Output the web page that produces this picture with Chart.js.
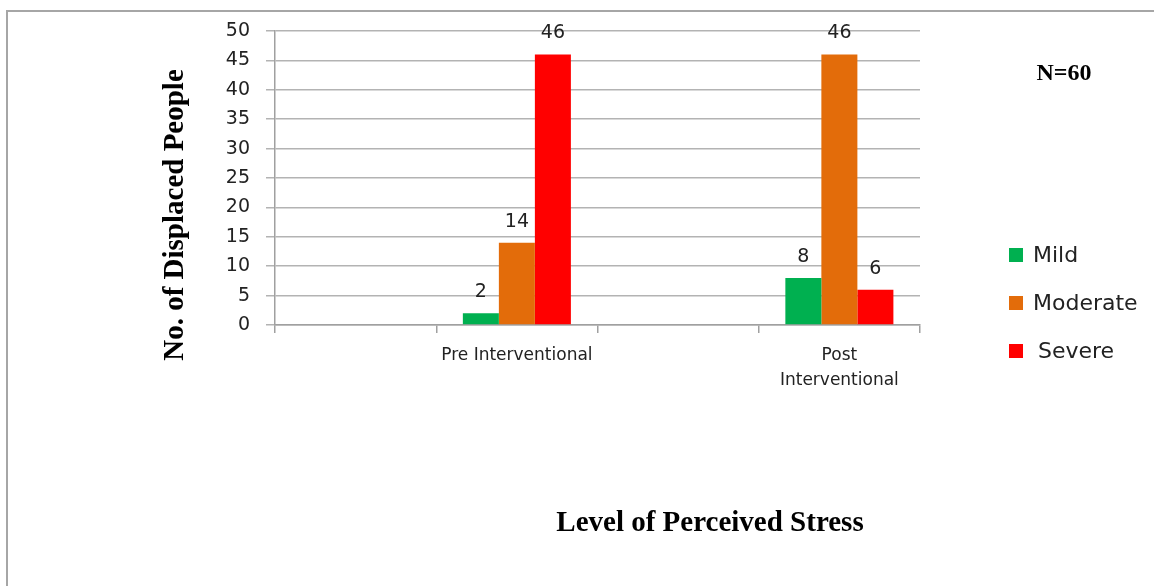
<!DOCTYPE html>
<html>
<head>
<meta charset="utf-8">
<script src="https://cdn.jsdelivr.net/npm/chart.js@4.4.1/dist/chart.umd.min.js"></script>
<style>
  html, body { margin: 0; padding: 0; background: #ffffff; }
  #wrap { position: relative; width: 1154px; height: 586px; }
  canvas { display: block; }
</style>
</head>
<body>
<div id="wrap"><canvas id="c" width="1154" height="586"></canvas></div>
<script>
// ---- data ----
const categories = ["", "Pre Interventional", "", ["Post", "Interventional"]];
const mildValues = [null, 2, null, 8];
const moderateValues = [null, 14, null, 46];
const severeValues = [null, 46, null, 6];
const seriesNames = ["Mild", "Moderate", "Severe"];
const seriesColors = ["#00b050", "#e36c0a", "#ff0000"];
const yMin = 0, yMax = 50, yStep = 5;
const yTitle = "No. of Displaced People";
const xTitle = "Level of Perceived Stress";
const noteText = "N=60";

const sans = "'DejaVu Sans', 'Open Sans', sans-serif";
const serif = "'Liberation Serif', 'DejaVu Serif', serif";

const extras = {
  id: 'extras',
  beforeDraw(chart) {
    const ctx = chart.ctx;
    ctx.save();
    ctx.fillStyle = '#ffffff';
    ctx.fillRect(0, 0, chart.width, chart.height);
    ctx.strokeStyle = '#a6a6a6';
    ctx.lineWidth = 2;
    ctx.beginPath();
    ctx.moveTo(7, chart.height);
    ctx.lineTo(7, 11);
    ctx.lineTo(chart.width, 11);
    ctx.stroke();
    ctx.restore();
  },
  afterDatasetsDraw(chart) {
    const ctx = chart.ctx;
    ctx.save();
    ctx.font = "19px " + sans;
    ctx.fillStyle = '#222222';
    ctx.textAlign = 'center';
    ctx.textBaseline = 'middle';
    chart.data.datasets.forEach((ds, i) => {
      const meta = chart.getDatasetMeta(i);
      meta.data.forEach((bar, j) => {
        const v = ds.data[j];
        if (v === null || v === undefined) return;
        ctx.fillText(String(v), bar.x, bar.y - 21);
      });
    });
    ctx.restore();
  },
  afterDraw(chart) {
    const ctx = chart.ctx;
    ctx.save();
    // y title
    ctx.fillStyle = '#000000';
    ctx.font = "bold 29px " + serif;
    ctx.textAlign = 'center';
    ctx.textBaseline = 'middle';
    ctx.translate(176, 215);
    ctx.rotate(-Math.PI / 2);
    ctx.fillText(yTitle, 0, 0);
    ctx.setTransform(1, 0, 0, 1, 0, 0);
    // x title
    ctx.font = "bold 29px " + serif;
    ctx.fillText(xTitle, 710, 524);
    // N note
    ctx.font = "bold 24px " + serif;
    ctx.fillText(noteText, 1064, 74);
    // legend
    ctx.textAlign = 'left';
    ctx.font = "22px " + sans;
    chart.data.datasets.forEach((ds, i) => {
      const cy = 255 + i * 48;
      ctx.fillStyle = ds.backgroundColor;
      ctx.fillRect(1009, cy - 7, 14, 14);
      ctx.fillStyle = '#222222';
      ctx.fillText(ds.label, i === 2 ? 1038 : 1033, cy + 1);
    });
    ctx.restore();
  }
};

new Chart(document.getElementById('c'), {
  type: 'bar',
  data: {
    labels: categories,
    datasets: [
      { label: seriesNames[0], data: mildValues, backgroundColor: seriesColors[0] },
      { label: seriesNames[1], data: moderateValues, backgroundColor: seriesColors[1] },
      { label: seriesNames[2], data: severeValues, backgroundColor: seriesColors[2] }
    ]
  },
  options: {
    responsive: false,
    animation: false,
    events: [],
    categoryPercentage: 0.67,
    barPercentage: 1.0,
    layout: { padding: { left: 160, right: 234, top: 31, bottom: 0 } },
    plugins: {
      legend: { display: false },
      tooltip: { enabled: false },
      title: { display: false }
    },
    scales: {
      x: {
        afterFit(scale) { scale.height = 261; },
        grid: {
          display: true,
          drawOnChartArea: false,
          drawTicks: true,
          tickLength: 8,
          color: '#a0a0a0',
          lineWidth: 1.5,
          offset: true
        },
        border: { display: true, color: '#a0a0a0', width: 1.5 },
        ticks: {
          autoSkip: false,
          maxRotation: 0,
          minRotation: 0,
          padding: 10,
          color: '#222222',
          font: { family: sans, size: 17, lineHeight: 1.47 }
        }
      },
      y: {
        min: yMin,
        max: yMax,
        afterFit(scale) { scale.width = 115; },
        grid: {
          color: '#b3b3b3',
          lineWidth: 1.5,
          tickLength: 9,
          drawTicks: true
        },
        border: { display: true, color: '#a0a0a0', width: 1.5 },
        ticks: {
          stepSize: yStep,
          padding: 16,
          color: '#222222',
          font: { family: sans, size: 19 }
        }
      }
    }
  },
  plugins: [extras]
});
</script>
</body>
</html>
